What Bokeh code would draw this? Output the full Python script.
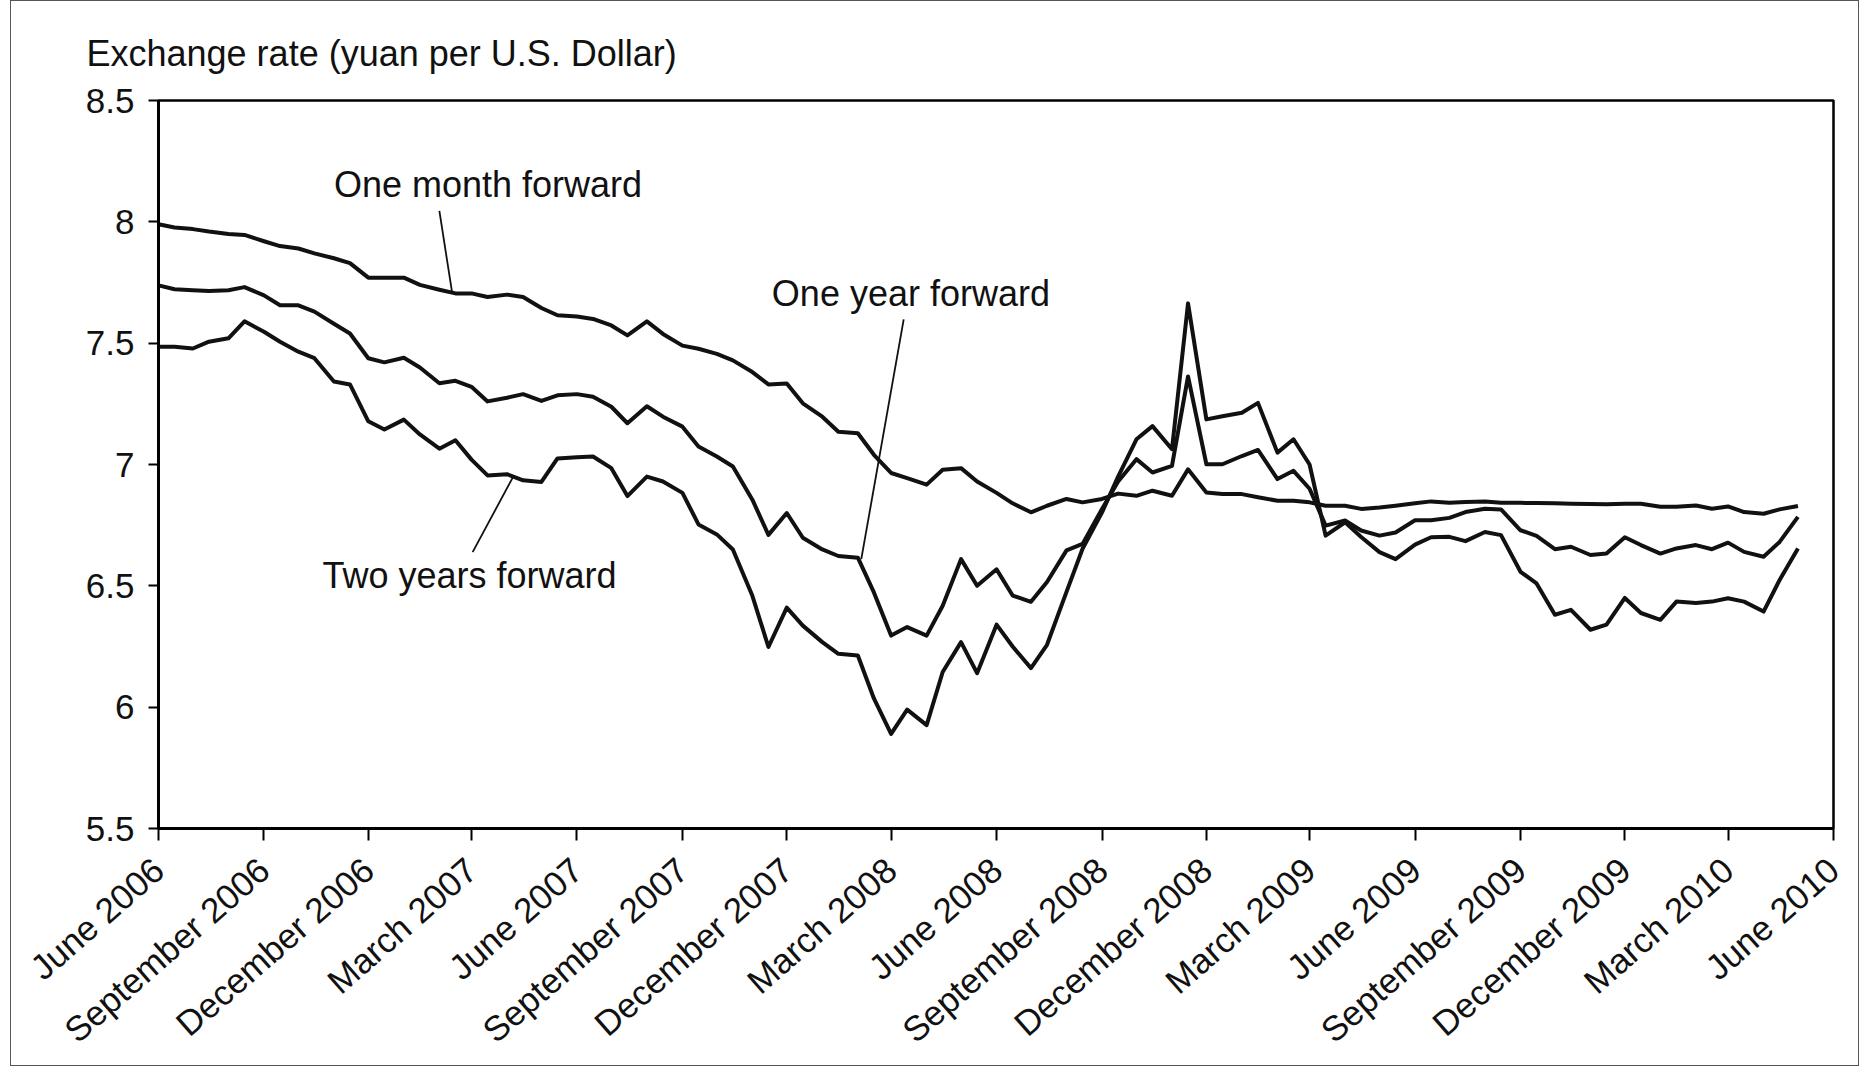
import pandas as pd
from bokeh.plotting import figure
from bokeh.models import ColumnDataSource, FixedTicker, Range1d
from bokeh.core.properties import value
from bokeh.embed import file_html
from bokeh.resources import INLINE

FONT = "Liberation Sans"

# semi-monthly observation dates (1st and 15th of each month), June 2006 - mid 2010
dates = pd.date_range("2006-06-01", periods=95, freq="SMS")

one_month = [
    7.99, 7.977, 7.97, 7.96, 7.95, 7.946, 7.92, 7.90, 7.89, 7.87,
    7.85, 7.83, 7.77, 7.77, 7.77, 7.74, 7.72, 7.705, 7.705, 7.69,
    7.70, 7.69, 7.645, 7.615, 7.61, 7.60, 7.573, 7.532, 7.59, 7.538,
    7.49, 7.477, 7.456, 7.429, 7.381, 7.33, 7.334, 7.252, 7.197, 7.135,
    7.129, 7.04, 6.965, 6.944, 6.917, 6.978, 6.985, 6.93, 6.883, 6.84,
    6.803, 6.83, 6.858, 6.844, 6.858, 6.88, 6.871, 6.892, 6.871, 6.98,
    6.885, 6.878, 6.878, 6.865, 6.851, 6.851, 6.844, 6.83, 6.83, 6.817,
    6.823, 6.83, 6.84, 6.848, 6.842, 6.845, 6.848, 6.842, 6.842, 6.841,
    6.84, 6.838, 6.837, 6.836, 6.838, 6.838, 6.826, 6.826, 6.831, 6.818,
    6.827, 6.804, 6.797, 6.815, 6.829,
]

one_year = [
    7.738, 7.722, 7.718, 7.715, 7.718, 7.731, 7.697, 7.656, 7.656, 7.63,
    7.58, 7.54, 7.438, 7.421, 7.44, 7.40, 7.335, 7.345, 7.32, 7.26,
    7.275, 7.29, 7.262, 7.285, 7.29, 7.279, 7.238, 7.17, 7.24, 7.197,
    7.156, 7.074, 7.033, 6.992, 6.855, 6.71, 6.80, 6.698, 6.65, 6.623,
    6.616, 6.473, 6.295, 6.33, 6.295, 6.418, 6.61, 6.50, 6.568, 6.46,
    6.434, 6.516, 6.646, 6.673, 6.817, 6.93, 7.022, 6.967, 6.994, 7.363,
    7.001, 7.001, 7.035, 7.06, 6.94, 6.974, 6.90, 6.748, 6.769, 6.728,
    6.707, 6.72, 6.77, 6.77, 6.78, 6.804, 6.818, 6.815, 6.729, 6.706,
    6.651, 6.661, 6.627, 6.633, 6.70, 6.668, 6.633, 6.654, 6.668, 6.651,
    6.678, 6.64, 6.62, 6.681, 6.784,
]

two_years = [
    7.485, 7.485, 7.478, 7.506, 7.52, 7.59, 7.547, 7.506, 7.465, 7.438,
    7.342, 7.33, 7.178, 7.144, 7.185, 7.124, 7.065, 7.10, 7.02, 6.955,
    6.96, 6.935, 6.928, 7.025, 7.03, 7.033, 6.985, 6.87, 6.95, 6.93,
    6.883, 6.753, 6.712, 6.65, 6.459, 6.248, 6.41, 6.336, 6.268, 6.22,
    6.213, 6.036, 5.89, 5.99, 5.926, 6.145, 6.268, 6.14, 6.34, 6.25,
    6.161, 6.257, 6.475, 6.653, 6.803, 6.95, 7.104, 7.158, 7.063, 7.664,
    7.186, 7.199, 7.213, 7.254, 7.049, 7.104, 7.00, 6.707, 6.762, 6.701,
    6.639, 6.61, 6.67, 6.70, 6.702, 6.684, 6.722, 6.709, 6.558, 6.51,
    6.381, 6.401, 6.319, 6.34, 6.45, 6.388, 6.36, 6.435, 6.429, 6.435,
    6.449, 6.435, 6.394, 6.524, 6.654,
]

tick_dates = pd.date_range("2006-06-01", "2010-06-01", freq="3MS")
tick_labels = [
    "June 2006", "September 2006", "December 2006", "March 2007",
    "June 2007", "September 2007", "December 2007", "March 2008",
    "June 2008", "September 2008", "December 2008", "March 2009",
    "June 2009", "September 2009", "December 2009", "March 2010",
    "June 2010",
]
y_ticks = [5.5, 6, 6.5, 7, 7.5, 8, 8.5]
y_tick_labels = ["5.5", "6", "6.5", "7", "7.5", "8", "8.5"]

# series labels and their leader lines
label_texts = ["One month forward", "One year forward", "Two years forward"]
label_x = pd.to_datetime(["2006-11-01", "2007-11-18", "2006-10-22"])
label_y = [8.153, 7.704, 6.541]
leader_x0 = pd.to_datetime(["2007-02-01", "2008-03-12", "2007-04-07"])
leader_y0 = [8.045, 7.598, 6.955]
leader_x1 = pd.to_datetime(["2007-02-12", "2008-02-04", "2007-03-02"])
leader_y1 = [7.711, 6.61, 6.639]

p = figure(
    width=1849, height=1066,
    x_axis_type="datetime",
    x_range=Range1d(pd.Timestamp("2006-06-01"), pd.Timestamp("2010-06-01")),
    y_range=Range1d(5.5, 8.5),
    output_backend="svg", toolbar_location=None,
    min_border_left=147, min_border_right=27,
    min_border_top=99, min_border_bottom=225,
)
p.styles = {"border": "1px solid #555555", "margin": "0px 0px 0px 10px"}
p.background_fill_color = "white"
p.border_fill_color = "white"
p.outline_line_color = "black"
p.outline_line_width = 2.5
p.xgrid.visible = False
p.ygrid.visible = False

p.title.text = "Exchange rate (yuan per U.S. Dollar)"
p.title.align = "left"
p.title.offset = -72
p.title.standoff = 54
p.title.text_font = FONT
p.title.text_font_size = "36px"
p.title.text_font_style = "normal"
p.title.text_color = "#111111"

src = ColumnDataSource(dict(date=dates, m1=one_month, y1=one_year, y2=two_years))
for col in ["m1", "y1", "y2"]:
    p.line("date", col, source=src, line_color="#111111", line_width=4,
           line_join="round")

lsrc = ColumnDataSource(dict(x=label_x, y=label_y, text=label_texts))
p.text("x", "y", text="text", source=lsrc, text_font=value(FONT),
       text_font_size="36px", text_color="#111111",
       text_baseline="middle", text_align="left")

seg = ColumnDataSource(dict(x0=leader_x0, y0=leader_y0, x1=leader_x1, y1=leader_y1))
p.segment("x0", "y0", "x1", "y1", source=seg, line_color="#111111", line_width=1.8)

ticks_ms = [int(t.value // 10**6) for t in tick_dates]
p.xaxis.ticker = FixedTicker(ticks=ticks_ms)
p.xaxis.major_label_overrides = dict(zip(ticks_ms, tick_labels))
p.xaxis.major_label_orientation = 0.72
p.xaxis.minor_tick_line_color = None
p.xaxis.major_tick_out = 12
p.xaxis.major_tick_in = 0
p.xaxis.major_label_standoff = 24
p.xaxis.axis_line_width = 3
p.xaxis.major_tick_line_width = 2
p.xaxis.major_label_text_font = FONT
p.xaxis.major_label_text_font_size = "35px"
p.xaxis.major_label_text_color = "#111111"

p.yaxis.ticker = FixedTicker(ticks=y_ticks)
p.yaxis.major_label_overrides = dict(zip(y_ticks, y_tick_labels))
p.yaxis.minor_tick_line_color = None
p.yaxis.major_tick_out = 10
p.yaxis.major_tick_in = 0
p.yaxis.major_label_standoff = 14
p.yaxis.axis_line_width = 3
p.yaxis.major_tick_line_width = 2
p.yaxis.major_label_text_font = FONT
p.yaxis.major_label_text_font_size = "35px"
p.yaxis.major_label_text_color = "#111111"

open("out.html", "w").write(file_html(p, INLINE))
